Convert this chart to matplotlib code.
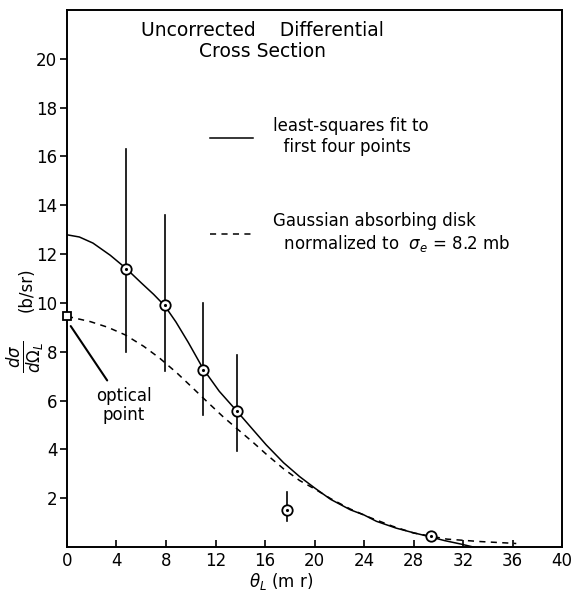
import numpy as np
import matplotlib.pyplot as plt

plt.rcParams['font.family'] = ['DejaVu Sans']
plt.rcParams['mathtext.fontset'] = 'dejavusans'

# measured points (theta in mr, dsigma/dOmega in b/sr)
theta = [4.8, 7.9, 11.0, 13.7, 17.8, 29.4]
xsec = [11.4, 9.9, 7.25, 5.58, 1.52, 0.45]
err_lo = [8.0, 7.2, 5.4, 3.95, 1.05, np.nan]
err_hi = [16.3, 13.6, 9.98, 7.87, 2.27, np.nan]

# optical point
opt_theta = [0.0]
opt_xsec = [9.45]

# least-squares fit (solid curve)
fit_theta = [0, 1, 2.1, 3.5, 4.8, 6.0, 7.0, 7.9, 8.8, 9.8, 11.0, 12.3, 13.7,
             15.0, 16.1, 17.5, 18.8, 20.0, 21.3, 22.9, 24.0, 25.0, 26.6,
             28.0, 29.3, 30.5, 31.8, 32.8]
fit_xsec = [12.79, 12.7, 12.45, 11.95, 11.4, 10.82, 10.35, 9.88, 9.22, 8.38,
            7.3, 6.38, 5.58, 4.82, 4.18, 3.45, 2.88, 2.42, 1.95, 1.52, 1.31,
            1.05, 0.77, 0.58, 0.42, 0.26, 0.12, 0.0]

# Gaussian absorbing disk (dashed curve)
gad_theta = [0, 1.9, 3.3, 4.7, 6.2, 7.5, 8.9, 9.9, 11.3, 12.6, 13.7, 15.0,
             16.1, 17.5, 18.8, 20.0, 21.3, 22.9, 24.5, 26.3, 28.0, 30.7,
             33.4, 36.0, 36.3]
gad_xsec = [9.45, 9.23, 9.0, 8.69, 8.22, 7.73, 7.12, 6.64, 5.96, 5.34, 4.86,
            4.3, 3.8, 3.2, 2.72, 2.38, 1.98, 1.55, 1.2, 0.85, 0.57, 0.32,
            0.22, 0.15, 0.14]

fig = plt.figure(figsize=(5.75, 5.9), dpi=100)
ax = fig.add_axes([0.1165, 0.073, 0.861, 0.910])

fit_line, = ax.plot(fit_theta, fit_xsec, color='black', lw=1.1)
gad_line, = ax.plot(gad_theta, gad_xsec, color='black', lw=1.1,
                    linestyle=(0, (4, 3.5)))

# error bars
for t, lo, hi in zip(theta, err_lo, err_hi):
    if not np.isnan(lo):
        ax.plot([t, t], [lo, hi], color='black', lw=1.2)

# data points: open circle with a dot in the middle
ax.plot(theta, xsec, 'o', ms=7.5, mfc='white', mec='black', mew=1.3, zorder=5)
ax.plot(theta, xsec, '.', ms=2.5, color='black', zorder=6)

# optical point
ax.plot(opt_theta, opt_xsec, 's', ms=6, mfc='white', mec='black', mew=1.3,
        clip_on=False, zorder=5)
ax.annotate('optical\npoint', xy=(opt_theta[0] + 0.3, opt_xsec[0] - 0.4),
            xytext=(4.6, 5.8), ha='center', va='center', fontsize=12,
            linespacing=1.1,
            arrowprops=dict(arrowstyle='-', color='black', lw=1.5,
                            shrinkA=3, shrinkB=0))

# title text
ax.text(15.8, 20.72, 'Uncorrected    Differential\nCross Section',
        ha='center', va='center', fontsize=13.5, linespacing=1.12)

# legend
ax.legend([fit_line, gad_line],
          ['least-squares fit to\n  first four points',
           'Gaussian absorbing disk\n  normalized to  $\\sigma_e$ = 8.2 mb'],
          loc='upper left', bbox_to_anchor=(0.288, 0.80), frameon=False,
          fontsize=12, handlelength=2.6, handletextpad=1.2,
          labelspacing=3.35, borderpad=0, borderaxespad=0)

ax.set_xlim(0, 40)
ax.set_ylim(0, 22)
ax.set_xticks(np.arange(0, 41, 4))
ax.set_yticks(np.arange(2, 21, 2))
ax.tick_params(axis='x', direction='in', length=5, width=1.2, labelsize=12,
               pad=4)
ax.tick_params(axis='y', direction='out', length=5, width=1.2, labelsize=12,
               pad=2)
for s in ax.spines.values():
    s.set_linewidth(1.4)

# axis labels
fig.text(281 / 575, 1 - 581 / 590, '$\\theta_L$ (m r)', ha='center',
         va='center', fontsize=12)
fig.text(26 / 575, 1 - 357 / 590, '$\\frac{d\\sigma}{d\\Omega_L}$',
         ha='center', va='center', rotation=90, fontsize=17)
fig.text(27 / 575, 1 - 290 / 590, '(b/sr)', ha='center', va='center',
         rotation=90, fontsize=12)

fig.savefig('out.png', dpi=100)
